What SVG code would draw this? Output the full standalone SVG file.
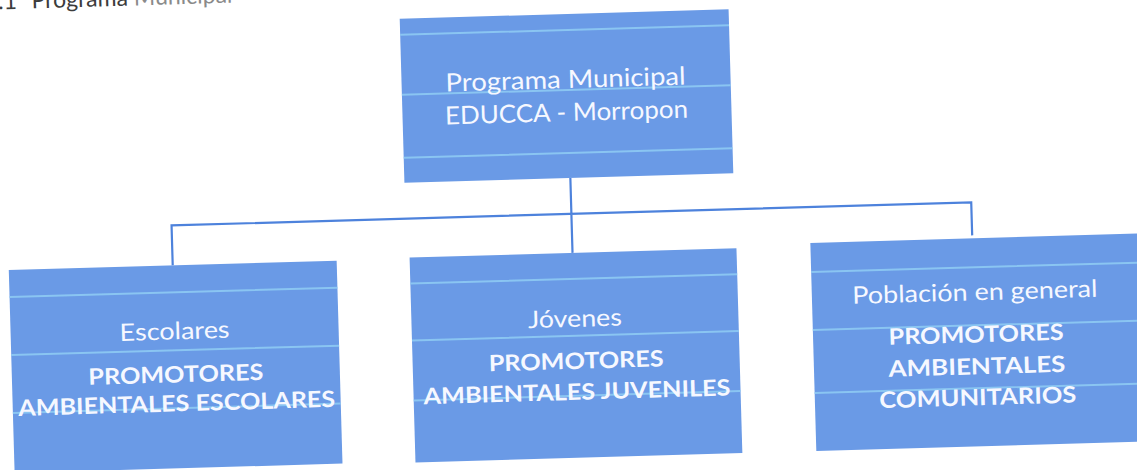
<svg xmlns="http://www.w3.org/2000/svg" width="1137" height="470" viewBox="0 0 1137 470">
<style>
.box{fill:#6a9ae6}
.rule{stroke:#8fcdf3;stroke-width:2;opacity:.85;fill:none}
.conn{fill:none;stroke:#4d82dc;stroke-width:2.2}
text{font-family:Lato,"Open Sans","Liberation Sans",sans-serif;fill:#f6f8ff;text-anchor:middle}
.t1{font-size:25px}
.t2{font-size:24px}
.b{font-size:22.5px;font-weight:700}
.hdr{font-size:23px;fill:#3c3c3c;text-anchor:start}
</style>
<rect width="1137" height="470" fill="#ffffff"/>
<g transform="rotate(-1.65 568 235)">
  <text class="hdr" y="-7"><tspan x="5">.1</tspan><tspan x="38.5">Programa </tspan><tspan fill="#8a8a8a">Municipal</tspan></text>
  <g id="connectors">
    <path class="conn" d="M172,254 V214 H972 V247 M572,178 V253"/>
  </g>
  <g id="node-programa">
    <rect class="box" x="406" y="14" width="329" height="164"/>
    <path class="rule" d="M406,30H735M406,90H735M406,153H735"/>
    <text class="t1" x="570" y="88" textLength="240" lengthAdjust="spacingAndGlyphs">Programa Municipal</text>
    <text class="t1" x="570" y="121" textLength="243" lengthAdjust="spacingAndGlyphs">EDUCCA - Morropon</text>
  </g>
  <g id="node-escolares">
    <rect class="box" x="8" y="254" width="328" height="203"/>
    <path class="rule" d="M8,281H336M8,339H336M8,397H336"/>
    <text class="t2" x="172" y="328" textLength="110" lengthAdjust="spacingAndGlyphs">Escolares</text>
    <text class="b" x="172" y="371" textLength="175" lengthAdjust="spacingAndGlyphs">PROMOTORES</text>
    <text class="b" x="172" y="400" textLength="317" lengthAdjust="spacingAndGlyphs">AMBIENTALES ESCOLARES</text>
  </g>
  <g id="node-jovenes">
    <rect class="box" x="409" y="253" width="327" height="205"/>
    <path class="rule" d="M409,279H736M409,336H736M409,396H736"/>
    <text class="t2" x="572.5" y="327" textLength="94" lengthAdjust="spacingAndGlyphs">Jóvenes</text>
    <text class="b" x="572.5" y="369" textLength="175" lengthAdjust="spacingAndGlyphs">PROMOTORES</text>
    <text class="b" x="572.5" y="400" textLength="307" lengthAdjust="spacingAndGlyphs">AMBIENTALES JUVENILES</text>
  </g>
  <g id="node-poblacion">
    <rect class="box" x="810" y="250" width="332" height="208"/>
    <path class="rule" d="M810,279H1142M810,337H1142M810,400H1142"/>
    <text class="t2" x="973" y="312" textLength="245" lengthAdjust="spacingAndGlyphs">Población en general</text>
    <text class="b" x="973" y="354" textLength="175" lengthAdjust="spacingAndGlyphs">PROMOTORES</text>
    <text class="b" x="973" y="386" textLength="177" lengthAdjust="spacingAndGlyphs">AMBIENTALES</text>
    <text class="b" x="973" y="417" textLength="197" lengthAdjust="spacingAndGlyphs">COMUNITARIOS</text>
  </g>
</g>
</svg>
